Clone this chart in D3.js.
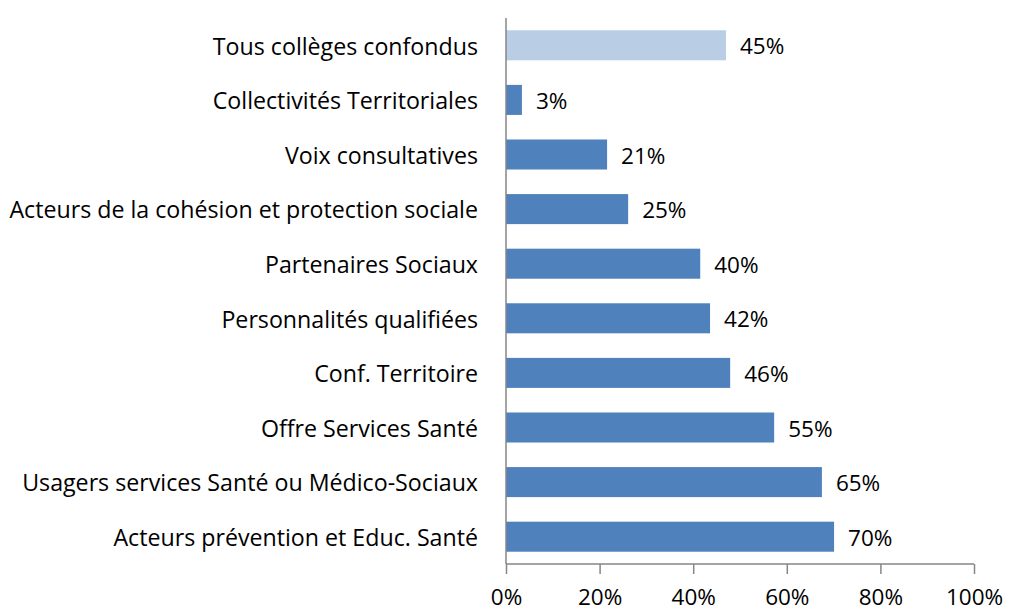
<!DOCTYPE html>
<html><head><meta charset="utf-8">
<script src="https://cdn.jsdelivr.net/npm/d3@7"></script>
<style>body{margin:0;background:#fff;} text{font-family:"Open Sans", Lato, sans-serif;}</style>
</head><body>
<svg id="c" width="1021" height="612"></svg>
<script>
const categories = ["Tous collèges confondus","Collectivités Territoriales","Voix consultatives","Acteurs de la cohésion et protection sociale","Partenaires Sociaux","Personnalités qualifiées","Conf. Territoire","Offre Services Santé","Usagers services Santé ou Médico-Sociaux","Acteurs prévention et Educ. Santé"];
// bar lengths
const values = [47,3.4,21.6,26.1,41.5,43.6,47.9,57.3,67.5,70.1];
// data labels as printed on the picture
const valueLabels = ["45%","3%","21%","25%","40%","42%","46%","55%","65%","70%"];
const highlight = [true,false,false,false,false,false,false,false,false,false];
const ticks = [0,20,40,60,80,100];

const svg = d3.select("#c");
const x = d3.scaleLinear().domain([0,100]).range([506,974]);
const y = d3.scaleBand().domain(categories).range([18,564]).paddingInner(0.45).paddingOuter(0.225);
const data = categories.map((c,i)=>({c,v:values[i],l:valueLabels[i],h:highlight[i]}));

svg.selectAll("rect.bar").data(data).join("rect").attr("class","bar")
  .attr("x",x(0)).attr("y",d=>y(d.c)).attr("width",d=>x(d.v)-x(0)).attr("height",y.bandwidth())
  .attr("fill",d=>d.h?"#B9CDE5":"#4F81BD");

svg.selectAll("text.val").data(data).join("text").attr("class","val")
  .attr("x",d=>x(d.v)+14).attr("y",d=>y(d.c)+y.bandwidth()/2).attr("dy","0.4em")
  .attr("font-size",22.5).attr("fill","#000").text(d=>d.l);

svg.selectAll("text.cat").data(data).join("text").attr("class","cat")
  .attr("x",478).attr("y",d=>y(d.c)+y.bandwidth()/2).attr("dy","0.4em").attr("text-anchor","end")
  .attr("font-size",23.2).attr("fill","#000").text(d=>d.c);

// axes
svg.append("line").attr("x1",x(0)).attr("x2",x(0)).attr("y1",18).attr("y2",564).attr("stroke","#868686").attr("stroke-width",1.5);
const xa = svg.append("g").attr("transform","translate(0,564)")
  .call(d3.axisBottom(x).tickValues(ticks).tickSize(10).tickFormat(d=>d+"%"));
xa.select(".domain").attr("stroke","#868686").attr("stroke-width",1.5).attr("d",`M${x(0)},0H${x(100)}`);
xa.selectAll(".tick line").attr("stroke","#868686").attr("stroke-width",1.5);
xa.selectAll(".tick text").attr("font-size",22.5).attr("fill","#000").attr("y",41).attr("dy","0em").style("font-family","'Open Sans', Lato, sans-serif");
</script>
</body></html>
